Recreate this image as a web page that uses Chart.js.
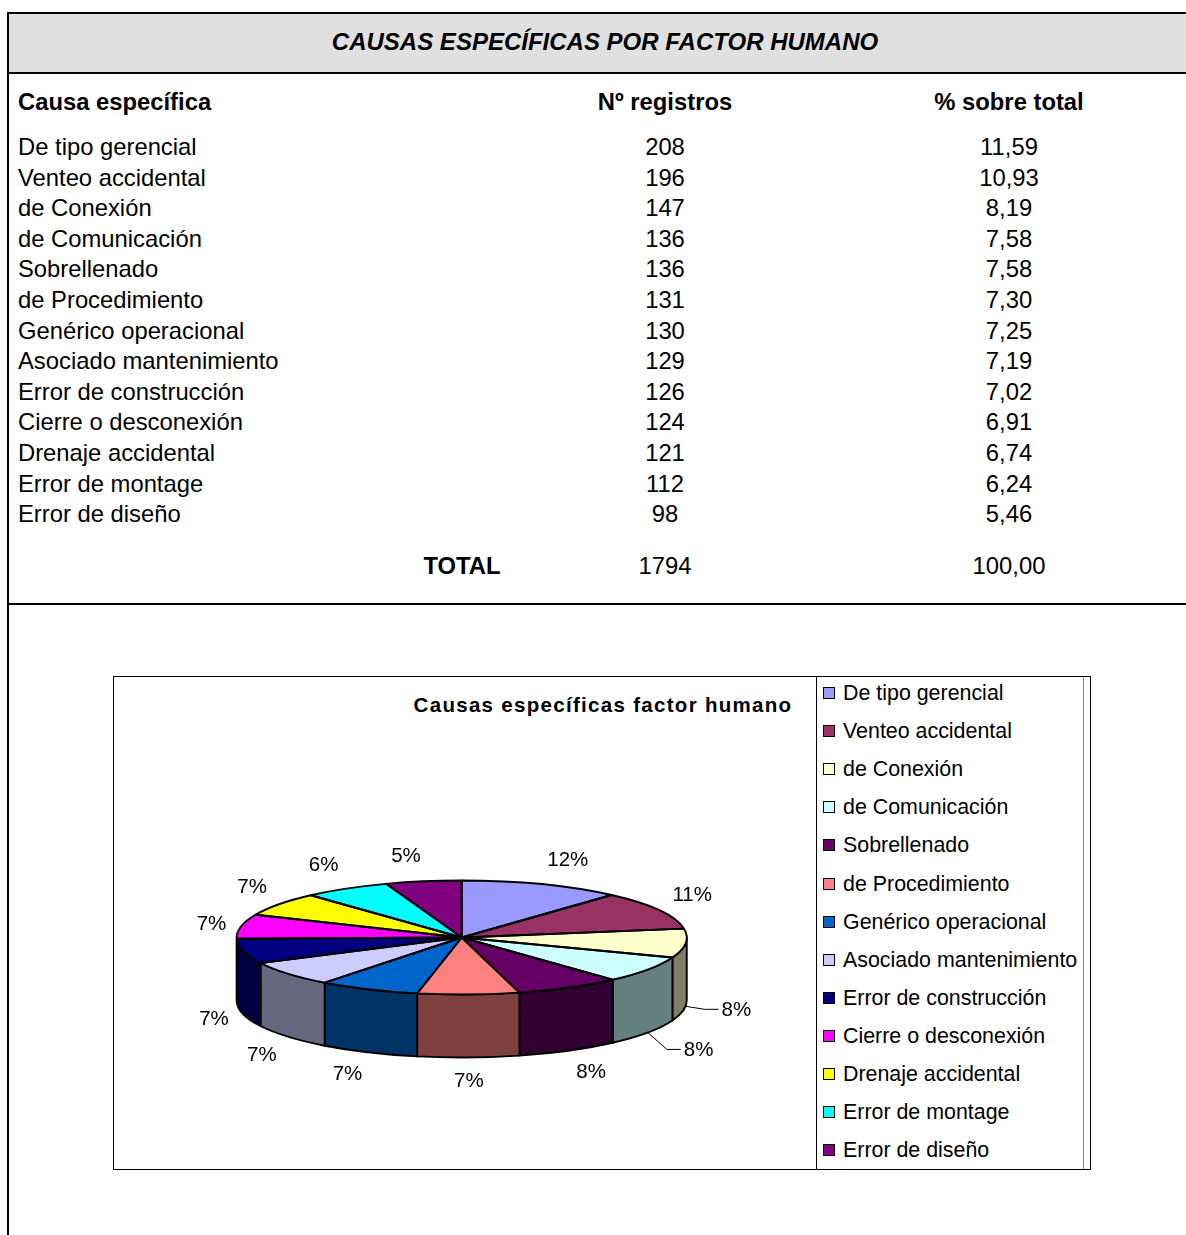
<!DOCTYPE html>
<html>
<head>
<meta charset="utf-8">
<script src="https://cdn.jsdelivr.net/npm/chart.js@4.4.1/dist/chart.umd.min.js"></script>
<style>
  body { margin: 0; background: #fff; font-family: "Liberation Sans", Arial, sans-serif; color: #000; }
  #page { position: relative; width: 1186px; height: 1235px; overflow: hidden; }
  .t { position: absolute; white-space: nowrap; height: 30px; line-height: 30px; font-size: 23.8px; }
  .b { font-weight: bold; }
  .c { transform: translateX(-50%); }
  #band { position: absolute; left: 8px; top: 12px; width: 1178px; height: 58px; background: #e0e0e0;
          border-top: 2px solid #000; border-bottom: 2px solid #000; }
  #vline { position: absolute; left: 7px; top: 12px; width: 2px; height: 1223px; background: #000; }
  #hline { position: absolute; left: 8px; top: 603px; width: 1178px; height: 2px; background: #000; }
  #box { position: absolute; left: 113px; top: 676px; width: 976px; height: 492px; border: 1px solid #000; }
  #legsep { position: absolute; left: 816px; top: 676px; width: 1px; height: 494px; background: #000; }
  #legin { position: absolute; left: 1083px; top: 677px; width: 1px; height: 492px; background: #888; }
  #pie { position: absolute; left: 114px; top: 677px; }
  .leg { position: absolute; left: 843px; height: 30px; line-height: 30px; font-size: 21.4px; white-space: nowrap; }
  .sw { position: absolute; left: 823px; width: 10px; height: 10px; border: 1px solid #000; }
  #ctitle { position: absolute; left: 603px; top: 690px; height: 30px; line-height: 30px; transform: translateX(-50%);
            font-size: 20.5px; font-weight: bold; letter-spacing: 1.3px; white-space: nowrap; }
</style>
</head>
<body>
<div id="page">
  <div id="band"></div>
  <div id="vline"></div>
  <div id="hline"></div>
  <div class="t b c" style="left:605px;top:27px;font-size:24px;font-style:italic;">CAUSAS ESPECÍFICAS POR FACTOR HUMANO</div>
  <div class="t b" style="left:18px;top:87px;">Causa específica</div>
  <div class="t b c" style="left:665px;top:87px;">Nº registros</div>
  <div class="t b c" style="left:1009px;top:87px;">% sobre total</div>
  <div id="rows"></div>
  <div id="box"></div>
  <div id="legsep"></div>
  <div id="legin"></div>
  <div id="ctitle">Causas específicas factor humano</div>
  <div id="legend"></div>
  <canvas id="pie" width="702" height="492"></canvas>
</div>
<script>
// datos de la tabla
const causas = ['De tipo gerencial', 'Venteo accidental', 'de Conexión', 'de Comunicación', 'Sobrellenado',
  'de Procedimiento', 'Genérico operacional', 'Asociado mantenimiento', 'Error de construcción',
  'Cierre o desconexión', 'Drenaje accidental', 'Error de montage', 'Error de diseño'];
const registros = [208, 196, 147, 136, 136, 131, 130, 129, 126, 124, 121, 112, 98];
const porcentajes = ['11,59', '10,93', '8,19', '7,58', '7,58', '7,30', '7,25', '7,19', '7,02', '6,91', '6,74', '6,24', '5,46'];
const totalTexto = ['TOTAL', '1794', '100,00'];

const colores = ['#9999FF', '#993366', '#FFFFCC', '#CCFFFF', '#660066', '#FF8080', '#0066CC',
  '#CCCCFF', '#000080', '#FF00FF', '#FFFF00', '#00FFFF', '#800080'];

const total = registros.reduce(function (a, b) { return a + b; }, 0);

// tabla
var rows = document.getElementById('rows');
var html = '';
causas.forEach(function (c, i) {
  var top = 132 + i * 30.6;
  html += '<div class="t" style="left:18px;top:' + top + 'px;">' + c + '</div>';
  html += '<div class="t c" style="left:665px;top:' + top + 'px;">' + registros[i] + '</div>';
  html += '<div class="t c" style="left:1009px;top:' + top + 'px;">' + porcentajes[i] + '</div>';
});
html += '<div class="t b c" style="left:462px;top:551px;">' + totalTexto[0] + '</div>';
html += '<div class="t c" style="left:665px;top:551px;">' + totalTexto[1] + '</div>';
html += '<div class="t c" style="left:1009px;top:551px;">' + totalTexto[2] + '</div>';
rows.innerHTML = html;

// leyenda
var leg = '';
causas.forEach(function (c, i) {
  var yc = 693 + i * 38.1;
  leg += '<div class="sw" style="top:' + (yc - 6) + 'px;background:' + colores[i] + ';"></div>';
  leg += '<div class="leg" style="top:' + (yc - 15) + 'px;">' + c + '</div>';
});
document.getElementById('legend').innerHTML = leg;

// tarta 3D
var TILT = 57 / 225;
var DEPTH = 63;

function shade(hex) {
  var n = parseInt(hex.slice(1), 16);
  return 'rgb(' + ((n >> 16) >> 1) + ',' + (((n >> 8) & 255) >> 1) + ',' + ((n & 255) >> 1) + ')';
}

var pie3d = {
  id: 'pie3d',
  beforeDatasetsDraw: function (chart) {
    var ctx = chart.ctx;
    var arcs = chart.getDatasetMeta(0).data;
    var cx = arcs[0].x, cy = arcs[0].y, r = arcs[0].outerRadius, ry = r * TILT;
    ctx.save();
    ctx.lineWidth = 1.9;
    ctx.strokeStyle = '#000';
    ctx.lineJoin = 'round';
    arcs.forEach(function (arc, i) {
      var s = Math.max(arc.startAngle, 0), e = Math.min(arc.endAngle, Math.PI);
      if (e <= s) return;
      ctx.beginPath();
      ctx.ellipse(cx, cy, r, ry, 0, s, e);
      ctx.lineTo(cx + r * Math.cos(e), cy + ry * Math.sin(e) + DEPTH);
      ctx.ellipse(cx, cy + DEPTH, r, ry, 0, e, s, true);
      ctx.closePath();
      ctx.fillStyle = shade(colores[i]);
      ctx.fill();
      ctx.stroke();
    });
    ctx.restore();
    // aplanar la cara superior
    ctx.save();
    ctx.translate(cx, cy);
    ctx.scale(1, TILT);
    ctx.translate(-cx, -cy);
  },
  afterDatasetsDraw: function (chart) {
    var ctx = chart.ctx;
    ctx.restore();
    var arcs = chart.getDatasetMeta(0).data;
    var cx = arcs[0].x, cy = arcs[0].y, r = arcs[0].outerRadius, ry = r * TILT;
    ctx.save();
    ctx.lineWidth = 1.9;
    ctx.strokeStyle = '#000';
    ctx.lineJoin = 'round';
    arcs.forEach(function (arc) {
      ctx.beginPath();
      ctx.moveTo(cx, cy);
      ctx.ellipse(cx, cy, r, ry, 0, arc.startAngle, arc.endAngle);
      ctx.closePath();
      ctx.stroke();
    });

    // etiquetas de porcentaje
    ctx.font = '20.5px "Liberation Sans", Arial, sans-serif';
    ctx.fillStyle = '#000';
    ctx.textBaseline = 'alphabetic';
    ctx.lineWidth = 1;
    arcs.forEach(function (arc, i) {
      var m = (arc.startAngle + arc.endAngle) / 2;
      var c = Math.cos(m), s = Math.sin(m);
      var txt = Math.round(registros[i] / total * 100) + '%';
      if (s > 0 && c > 0.7) {
        var bx = cx + r * c, by = cy + ry * s + DEPTH;
        var lx = bx + 36, ly = by + 30 * s;
        ctx.beginPath();
        ctx.moveTo(bx, by);
        ctx.lineTo(lx - 17, ly);
        ctx.lineTo(lx - 3, ly);
        ctx.stroke();
        ctx.textAlign = 'left';
        ctx.fillText(txt, lx, ly + 7);
        return;
      }
      var ax = cx + (r + 15) * c;
      var ay;
      if (s < -0.3) ay = cy + (ry + 20) * s;
      else if (s > 0.3) ay = cy + (ry + 15) * s + DEPTH + 14.3;
      else ay = cy + (s > 0 ? (ry + 15) * s + DEPTH : (ry + 20) * s) + 7;
      ctx.textAlign = c > 0.15 ? 'left' : (c < -0.15 ? 'right' : 'center');
      ctx.fillText(txt, ax, ay);
    });
    ctx.restore();
  }
};

new Chart(document.getElementById('pie').getContext('2d'), {
  type: 'pie',
  data: {
    labels: causas,
    datasets: [{
      data: registros,
      backgroundColor: colores,
      borderWidth: 0,
      radius: 225
    }]
  },
  options: {
    responsive: false,
    animation: false,
    events: [],
    layout: { padding: { left: 0, right: 6.5, top: 29, bottom: 0 } },
    plugins: {
      legend: { display: false },
      tooltip: { enabled: false }
    }
  },
  plugins: [pie3d]
});
</script>
</body>
</html>
